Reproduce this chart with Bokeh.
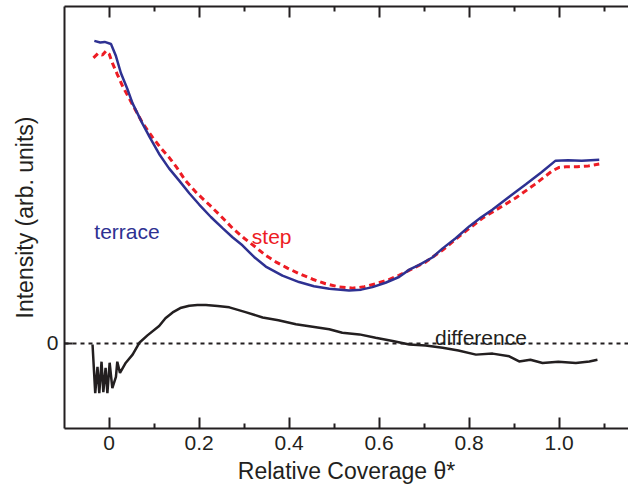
from bokeh.plotting import figure
from bokeh.models import (LinearAxis, FixedTicker, CustomJSTickFormatter, Span, Range1d,
                          CustomLabelingPolicy)
from bokeh.core.properties import value
from bokeh.embed import file_html
from bokeh.resources import INLINE

# ---- data ----
terrace_x = [-0.033, -0.02, -0.01, 0.004, 0.015, 0.026, 0.04, 0.052, 0.074, 0.09, 0.111, 0.133,
             0.156, 0.178, 0.2, 0.226, 0.252, 0.274, 0.296, 0.322, 0.348, 0.385, 0.422, 0.455,
             0.489, 0.533, 0.56, 0.585, 0.614, 0.644, 0.667, 0.69, 0.718, 0.741, 0.77, 0.8,
             0.826, 0.852, 0.889, 0.926, 0.96, 0.992, 1.02, 1.05, 1.07, 1.089]
terrace_y = [2.99, 2.975, 2.98, 2.96, 2.84, 2.673, 2.52, 2.373, 2.173, 2.04, 1.873, 1.73,
             1.607, 1.485, 1.373, 1.25, 1.14, 1.05, 0.97, 0.855, 0.76, 0.67, 0.607, 0.565,
             0.54, 0.523, 0.532, 0.557, 0.60, 0.657, 0.73, 0.78, 0.85, 0.94, 1.04, 1.157,
             1.245, 1.323, 1.45, 1.573, 1.69, 1.807, 1.81, 1.805, 1.81, 1.815]

step_x = [-0.035, -0.025, -0.015, -0.007, 0.0, 0.007, 0.018, 0.03, 0.052, 0.074, 0.096, 0.115,
          0.133, 0.15, 0.17, 0.196, 0.222, 0.25, 0.274, 0.3, 0.326, 0.348, 0.37, 0.396,
          0.422, 0.452, 0.481, 0.51, 0.541, 0.567, 0.592, 0.618, 0.644, 0.674, 0.704, 0.741,
          0.785, 0.83, 0.867, 0.904, 0.945, 0.985, 1.0, 1.015, 1.04, 1.065, 1.089]
step_y = [2.823, 2.865, 2.85, 2.89, 2.86, 2.773, 2.66, 2.54, 2.36, 2.18, 2.04, 1.93,
          1.84, 1.74, 1.607, 1.48, 1.373, 1.25, 1.14, 1.04, 0.95, 0.87, 0.807, 0.745,
          0.69, 0.635, 0.59, 0.56, 0.547, 0.56, 0.59, 0.625, 0.673, 0.74, 0.807, 0.923,
          1.085, 1.24, 1.34, 1.44, 1.57, 1.707, 1.74, 1.747, 1.747, 1.755, 1.773]

diff_x = [-0.037, -0.031, -0.026, -0.022, -0.017, -0.013, -0.008, -0.004, 0.001, 0.007, 0.015,
          0.018, 0.024, 0.037, 0.052, 0.067, 0.085, 0.111, 0.125, 0.141, 0.158, 0.178, 0.196,
          0.215, 0.241, 0.267, 0.303, 0.341, 0.376, 0.415, 0.452, 0.489, 0.518, 0.556, 0.592,
          0.63, 0.667, 0.703, 0.741, 0.776, 0.815, 0.852, 0.889, 0.911, 0.936, 0.963, 0.998,
          1.037, 1.067, 1.085]
diff_y = [-0.01, -0.49, -0.23, -0.49, -0.18, -0.48, -0.24, -0.49, -0.19, -0.44, -0.33,
          -0.18, -0.29, -0.19, -0.11, 0.007, 0.08, 0.173, 0.25, 0.307, 0.35, 0.373, 0.38,
          0.38, 0.37, 0.357, 0.31, 0.257, 0.23, 0.19, 0.165, 0.14, 0.107, 0.09, 0.057,
          0.025, -0.01, -0.02, -0.043, -0.07, -0.11, -0.10, -0.127, -0.177, -0.16, -0.193, -0.18,
          -0.193, -0.177, -0.16]

x_major_ticks = [0, 0.2, 0.4, 0.6, 0.8, 1.0]
x_minor_ticks = [-0.1, 0.1, 0.3, 0.5, 0.7, 0.9, 1.1]
y_ticks = [0]

label_text = ["terrace", "step", "difference"]
label_x = [-0.033, 0.317, 0.724]
label_y = [1.107, 1.06, 0.057]

BLUE = "#2e3192"
RED = "#ed1c24"
INK = "#231f20"
FONT = "Liberation Sans"

p = figure(width=628, height=486, output_backend="svg", toolbar_location=None,
           x_range=Range1d(-0.0993, 1.154), y_range=Range1d(-0.84, 3.33),
           x_axis_location=None, y_axis_location=None,
           min_border_left=64, min_border_right=0, min_border_top=6, min_border_bottom=0)
p.outline_line_color = None
p.grid.visible = False
p.background_fill_color = "white"
p.border_fill_color = "white"

fmt = CustomJSTickFormatter(code="const s = tick.toFixed(1); return s === '0.0' ? '0' : s;")
blank = CustomJSTickFormatter(code="return '';")
no_labels = CustomLabelingPolicy(code="""
try { for (let i = 0; i < indices.size; i++) { indices.unset(i) } } catch (e) {}
return indices
""")

# bottom axis
xb = LinearAxis(ticker=FixedTicker(ticks=x_major_ticks, minor_ticks=x_minor_ticks), formatter=fmt,
                axis_label="Relative Coverage θ*")
# top axis (ticks only)
xt = LinearAxis(ticker=FixedTicker(ticks=x_major_ticks, minor_ticks=x_minor_ticks), formatter=blank,
                major_label_policy=no_labels)
xt.major_label_standoff = 0
xt.major_label_text_font_size = "10px"
# left axis
yl = LinearAxis(ticker=FixedTicker(ticks=y_ticks, minor_ticks=[]), formatter=fmt,
                axis_label="Intensity (arb. units)")

for ax in (xb, xt, yl):
    ax.axis_line_width = 2
    ax.axis_line_color = INK
    ax.major_tick_line_width = 2
    ax.major_tick_line_color = INK
    ax.minor_tick_line_width = 2
    ax.minor_tick_line_color = INK
    ax.major_tick_out = 0
    ax.minor_tick_out = 0
    ax.major_tick_in = 11
    ax.minor_tick_in = 5
    ax.axis_label_text_font = FONT
    ax.axis_label_text_font_style = "normal"
    ax.axis_label_text_color = INK
    ax.major_label_text_font = FONT
    ax.major_label_text_color = INK

yl.major_tick_in = 8
xb.major_label_text_font_size = "21px"
xb.axis_label_text_font_size = "23px"
xb.major_label_standoff = 7
xb.axis_label_standoff = 5
yl.major_label_text_font_size = "21px"
yl.axis_label_text_font_size = "23px"
yl.major_label_standoff = 6
yl.axis_label_standoff = 6

p.add_layout(xb, "below")
p.add_layout(xt, "above")
p.add_layout(yl, "left")

# zero line
p.add_layout(Span(location=0, dimension="width", line_color=INK, line_width=2,
                  line_dash="4 4"))

p.line(diff_x, diff_y, line_color=INK, line_width=2.5)
p.line(step_x, step_y, line_color=RED, line_width=3, line_dash="6 4")
p.line(terrace_x, terrace_y, line_color=BLUE, line_width=2.5)

p.text(x=label_x, y=label_y, text=label_text, text_color=[BLUE, RED, INK],
       text_font=value(FONT), text_font_size="21px", text_baseline="alphabetic",
       text_align="left")

open("out.html", "w").write(file_html(p, INLINE))
